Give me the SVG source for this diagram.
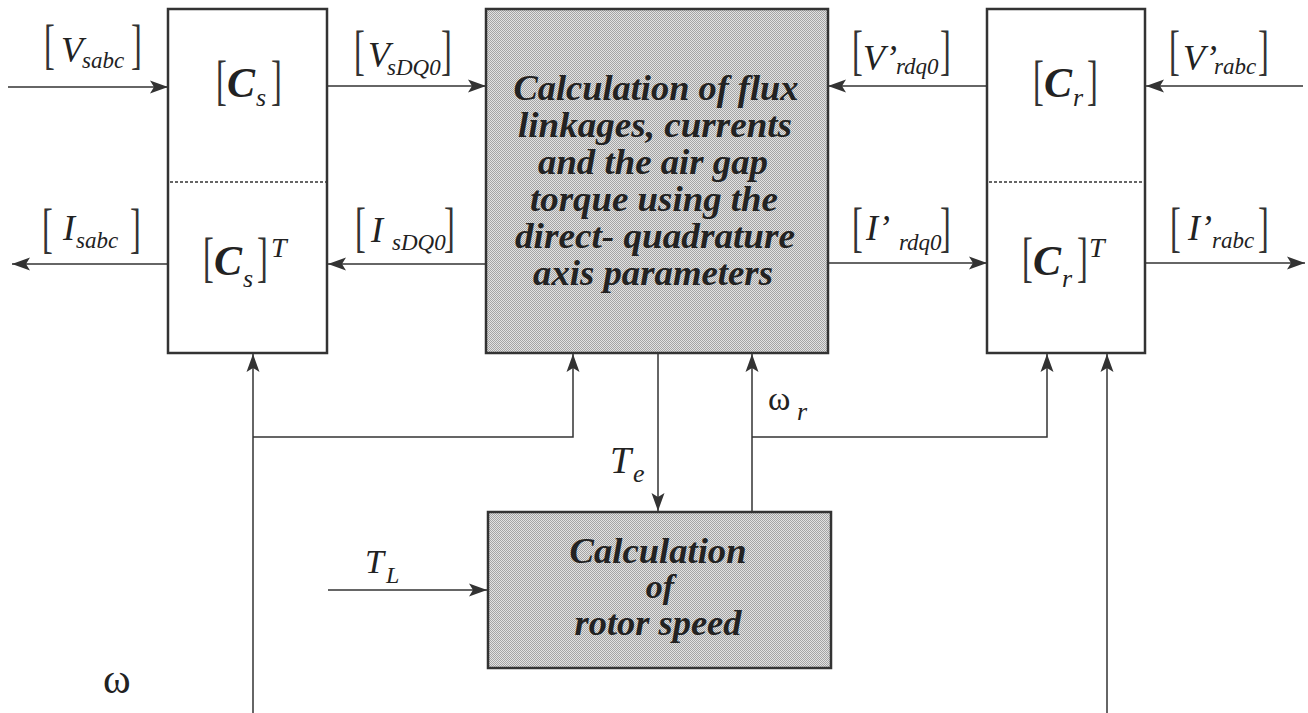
<svg xmlns="http://www.w3.org/2000/svg" width="1308" height="713" viewBox="0 0 1308 713">
<style>
.box{fill:#fff;stroke:#333;stroke-width:2.5}
.shade{fill:url(#dots);stroke:#333;stroke-width:2.5}
.div{stroke:#333;stroke-width:1.5;stroke-dasharray:3 2;fill:none}
.ln{fill:none;stroke:#333;stroke-width:1.5}
.arr{marker-end:url(#ah)}
.br{font-family:"Liberation Serif",serif;font-size:54px;fill:#333}
.lab{font-family:"Liberation Serif",serif;font-style:italic;font-size:36px;fill:#222}
.sub{font-size:23px}
.mat{font-family:"Liberation Serif",serif;font-style:italic;font-weight:bold;font-size:42px;fill:#222}
.msub{font-weight:normal;font-size:26px}
.sup{font-weight:normal;font-size:28px}
.blk{font-family:"Liberation Serif",serif;font-style:italic;font-weight:bold;font-size:36px;fill:#222;text-anchor:middle}
.gr{font-family:"Liberation Serif",serif;fill:#222}
</style>
<defs>
<pattern id="dots" width="2" height="2" patternUnits="userSpaceOnUse">
<rect width="2" height="2" fill="#e2e2e2"/>
<rect width="1" height="1" fill="#a4a4a4"/>
<rect x="1" y="1" width="1" height="1" fill="#a4a4a4"/>
</pattern>
<marker id="ah" markerWidth="20" markerHeight="16" refX="18" refY="7" orient="auto" markerUnits="userSpaceOnUse">
<path d="M18,7 L0,0.5 L4,7 L0,13.5 Z" fill="#333"/>
</marker>
</defs>
<rect width="1308" height="713" fill="#fff"/>

<g id="connectors">
<line class="ln arr" x1="8" y1="87" x2="168" y2="87"/>
<line class="ln arr" x1="327" y1="86" x2="486" y2="86"/>
<line class="ln arr" x1="168" y1="264" x2="12" y2="264"/>
<line class="ln arr" x1="486" y1="264" x2="328" y2="264"/>
<line class="ln arr" x1="987" y1="86" x2="828" y2="86"/>
<line class="ln arr" x1="1303" y1="86" x2="1146" y2="86"/>
<line class="ln arr" x1="828" y1="263" x2="987" y2="263"/>
<line class="ln arr" x1="1146" y1="263" x2="1305" y2="263"/>
<line class="ln arr" x1="253" y1="713" x2="253" y2="354"/>
<polyline class="ln arr" points="253,437 573,437 573,354"/>
<line class="ln arr" x1="658" y1="354" x2="658" y2="511"/>
<line class="ln arr" x1="752" y1="511" x2="752" y2="354"/>
<polyline class="ln arr" points="752,437 1047,437 1047,354"/>
<line class="ln arr" x1="1107" y1="713" x2="1107" y2="354"/>
<line class="ln arr" x1="328" y1="590" x2="487" y2="590"/>
</g>

<g id="cs">
<rect class="box" x="168" y="9" width="159" height="344"/>
<line class="div" x1="170" y1="182" x2="326" y2="182"/>
<text class="br" transform="translate(216,98.5) scale(0.6,1)">[</text>
<text class="mat" x="227" y="97">C<tspan class="msub" x="256" y="106">s</tspan></text>
<text class="br" transform="translate(271,98.5) scale(0.6,1)">]</text>
<text class="br" transform="translate(203,275.5) scale(0.6,1)">[</text>
<text class="mat" x="214" y="275">C<tspan class="msub" x="243" y="287">s</tspan></text>
<text class="br" transform="translate(257,275.5) scale(0.6,1)">]</text>
<text class="mat" x="271" y="257"><tspan class="sup">T</tspan></text>
</g>

<g id="flux">
<rect class="shade" x="486" y="9" width="342" height="344"/>
<text class="blk" x="656" y="100" textLength="285" lengthAdjust="spacingAndGlyphs">Calculation of flux</text>
<text class="blk" x="655" y="137" textLength="274" lengthAdjust="spacingAndGlyphs">linkages, currents</text>
<text class="blk" x="653" y="174" textLength="230" lengthAdjust="spacingAndGlyphs">and the air gap</text>
<text class="blk" x="654" y="211" textLength="248" lengthAdjust="spacingAndGlyphs">torque using the</text>
<text class="blk" x="655" y="248" textLength="280" lengthAdjust="spacingAndGlyphs">direct- quadrature</text>
<text class="blk" x="653" y="285" textLength="240" lengthAdjust="spacingAndGlyphs">axis parameters</text>
</g>

<g id="cr">
<rect class="box" x="987" y="9" width="158" height="344"/>
<line class="div" x1="989" y1="182" x2="1144" y2="182"/>
<text class="br" transform="translate(1033,98.5) scale(0.6,1)">[</text>
<text class="mat" x="1044" y="97">C<tspan class="msub" x="1073" y="106">r</tspan></text>
<text class="br" transform="translate(1087,98.5) scale(0.6,1)">]</text>
<text class="br" transform="translate(1022,275.5) scale(0.6,1)">[</text>
<text class="mat" x="1033" y="275">C<tspan class="msub" x="1062" y="287">r</tspan></text>
<text class="br" transform="translate(1077,275.5) scale(0.6,1)">]</text>
<text class="mat" x="1089" y="257"><tspan class="sup">T</tspan></text>
</g>

<g id="rotor">
<rect class="shade" x="488" y="512" width="343" height="156"/>
<text class="blk" x="658" y="563" textLength="177" lengthAdjust="spacingAndGlyphs">Calculation</text>
<text class="blk" x="660" y="598" style="font-size:34px">of</text>
<text class="blk" x="658" y="635" textLength="167" lengthAdjust="spacingAndGlyphs">rotor speed</text>
</g>

<g id="labels">
<g id="l-vsabc">
<text class="br" transform="translate(44,62.5) scale(0.6,1)">[</text>
<text class="lab" x="61" y="62">V<tspan class="sub" x="82" y="68">sabc</tspan></text>
<text class="br" transform="translate(131,62.5) scale(0.6,1)">]</text>
</g>
<g id="l-vsdq0">
<text class="br" transform="translate(354,68.5) scale(0.6,1)">[</text>
<text class="lab" x="368" y="67">V<tspan class="sub" x="387" y="75">sDQ0</tspan></text>
<text class="br" transform="translate(441,68.5) scale(0.6,1)">]</text>
</g>
<g id="l-isabc">
<text class="br" transform="translate(42,246.5) scale(0.6,1)">[</text>
<text class="lab" x="63" y="240">I<tspan class="sub" x="76" y="248">sabc</tspan></text>
<text class="br" transform="translate(130,246.5) scale(0.6,1)">]</text>
</g>
<g id="l-isdq0">
<text class="br" transform="translate(355,245.5) scale(0.6,1)">[</text>
<text class="lab" x="371" y="242">I<tspan class="sub" x="392" y="250">sDQ0</tspan></text>
<text class="br" transform="translate(444,245.5) scale(0.6,1)">]</text>
</g>
<g id="l-vrdq0">
<text class="br" transform="translate(852,68.5) scale(0.6,1)">[</text>
<text class="lab" x="863" y="70">V’<tspan class="sub" x="896" y="74">rdq0</tspan></text>
<text class="br" transform="translate(940,68.5) scale(0.6,1)">]</text>
</g>
<g id="l-vrabc">
<text class="br" transform="translate(1169,68.5) scale(0.6,1)">[</text>
<text class="lab" x="1183" y="70">V’<tspan class="sub" x="1214" y="74">rabc</tspan></text>
<text class="br" transform="translate(1258,68.5) scale(0.6,1)">]</text>
</g>
<g id="l-irdq0">
<text class="br" transform="translate(852,245.5) scale(0.6,1)">[</text>
<text class="lab" x="866" y="240">I’<tspan class="sub" x="899" y="250">rdq0</tspan></text>
<text class="br" transform="translate(940,245.5) scale(0.6,1)">]</text>
</g>
<g id="l-irabc">
<text class="br" transform="translate(1170,245.5) scale(0.6,1)">[</text>
<text class="lab" x="1188" y="240">I’<tspan class="sub" x="1212" y="248">rabc</tspan></text>
<text class="br" transform="translate(1258,245.5) scale(0.6,1)">]</text>
</g>
<g id="l-te">
<text class="lab" x="610" y="473" style="font-size:38px">T<tspan class="sub" x="633" y="482" style="font-size:26px">e</tspan></text>
</g>
<g id="l-wr">
<text class="gr" x="768" y="410" style="font-size:34px">ω<tspan x="797" y="420" style="font-style:italic;font-size:26px">r</tspan></text>
</g>
<g id="l-tl">
<text class="lab" x="365" y="573" style="font-size:34px">T<tspan class="sub" x="386" y="583" style="font-size:24px">L</tspan></text>
</g>
<g id="l-w">
<text class="gr" x="103" y="693" style="font-size:42px">ω</text>
</g>
</g>
</svg>
